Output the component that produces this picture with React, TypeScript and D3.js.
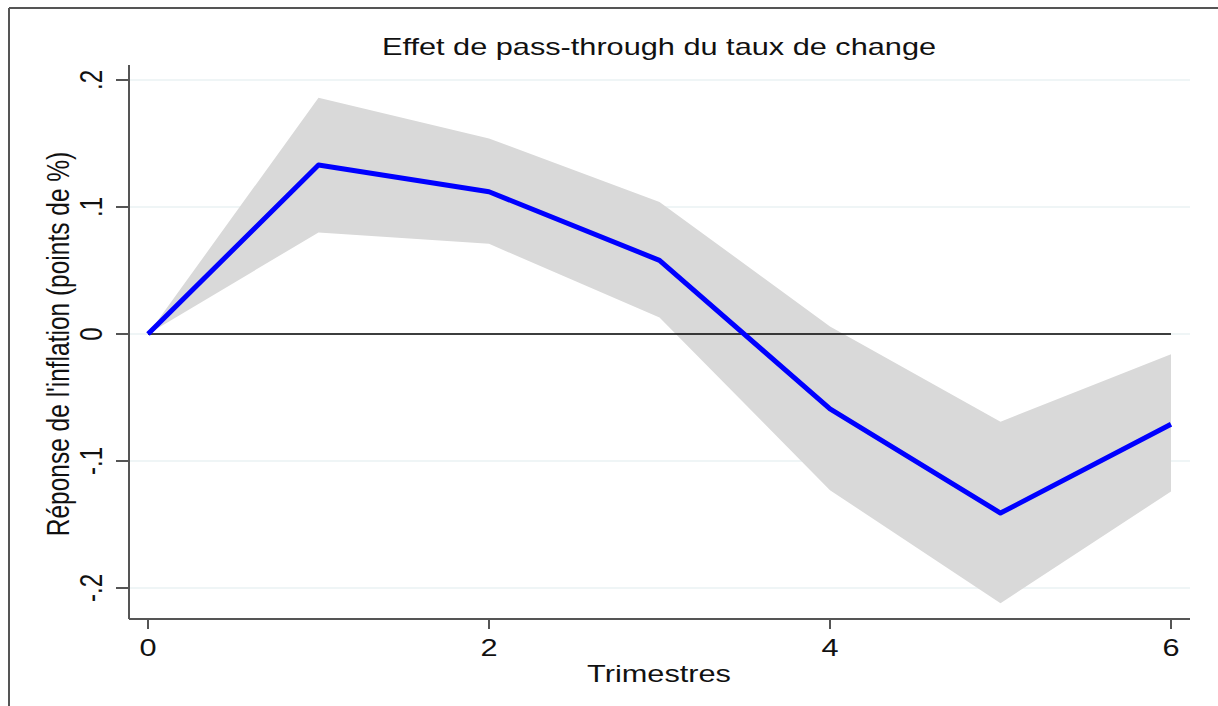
import React from 'react';
import * as d3 from 'd3';

// quarters after the shock
const quarters = [0, 1, 2, 3, 4, 5, 6];
// impulse response of inflation (points of %)
const response = [0, 0.133, 0.112, 0.058, -0.059, -0.141, -0.071];
const upperBand = [0, 0.186, 0.154, 0.104, 0.006, -0.069, -0.016];
const lowerBand = [0, 0.08, 0.071, 0.013, -0.123, -0.212, -0.124];

const yTicks = [-0.2, -0.1, 0, 0.1, 0.2];
const yTickLabels = ['-.2', '-.1', '0', '.1', '.2'];
const xTicks = [0, 2, 4, 6];

const W = 1218;
const H = 706;
const SX = 1.28; // the reference is stretched horizontally
const FONT = 'Arial, "Liberation Sans", sans-serif';
const AXIS = '#555';

const App: React.FC = () => {
	const x = d3.scaleLinear().domain([0, 6]).range([148, 1171]);
	const y = d3.scaleLinear().domain([-0.2, 0.2]).range([588, 80]);
	const xMin = 129;
	const xMax = 1190;
	const yTop = 65;
	const yBot = 619;

	const rows = quarters.map((q, i) => ({
		q,
		v: response[i],
		hi: upperBand[i],
		lo: lowerBand[i],
	}));

	const area = d3
		.area<(typeof rows)[number]>()
		.x((d) => x(d.q))
		.y0((d) => y(d.lo))
		.y1((d) => y(d.hi));
	const line = d3
		.line<(typeof rows)[number]>()
		.x((d) => x(d.q))
		.y((d) => y(d.v));

	return (
		<svg
			width={W}
			height={H}
			style={{ position: 'absolute', left: 0, top: 0, background: '#fff' }}>
			{/* outer frame (top & left only visible) */}
			<line x1={9} x2={W} y1={8} y2={8} stroke={AXIS} strokeWidth={2} />
			<line x1={9} x2={9} y1={8} y2={H} stroke={AXIS} strokeWidth={2} />

			{/* title */}
			<text
				transform={`translate(${659},${55}) scale(${SX},1)`}
				textAnchor="middle"
				fontFamily={FONT}
				fontSize={24}
				fill="#111">
				Effet de pass-through du taux de change
			</text>

			{/* grid */}
			{yTicks.map((t) => (
				<line
					key={'g' + t}
					x1={xMin}
					x2={xMax}
					y1={y(t)}
					y2={y(t)}
					stroke="#eaf2f3"
					strokeWidth={1.5}
				/>
			))}

			{/* confidence band */}
			<path d={area(rows) ?? ''} fill="#d9d9d9" />

			{/* zero line */}
			<line
				x1={x(0)}
				x2={x(6)}
				y1={y(0)}
				y2={y(0)}
				stroke="#000"
				strokeWidth={1.5}
			/>

			{/* response */}
			<path
				d={line(rows) ?? ''}
				fill="none"
				stroke="#0000ff"
				strokeWidth={5}
				strokeLinejoin="round"
			/>

			{/* axes */}
			<line x1={xMin} x2={xMin} y1={yTop} y2={yBot} stroke={AXIS} strokeWidth={2} />
			<line x1={xMin} x2={xMax} y1={yBot} y2={yBot} stroke={AXIS} strokeWidth={2} />

			{yTicks.map((t, i) => (
				<g key={'y' + t}>
					<line x1={116} x2={xMin} y1={y(t)} y2={y(t)} stroke={AXIS} strokeWidth={2} />
					<text
						transform={`translate(${102},${y(t)}) scale(${SX},1) rotate(-90)`}
						textAnchor="middle"
						fontFamily={FONT}
						fontSize={24}
						fill="#111">
						{yTickLabels[i]}
					</text>
				</g>
			))}

			{xTicks.map((t) => (
				<g key={'x' + t}>
					<line x1={x(t)} x2={x(t)} y1={yBot} y2={629} stroke={AXIS} strokeWidth={2} />
					<text
						transform={`translate(${x(t)},${656}) scale(${SX},1)`}
						textAnchor="middle"
						fontFamily={FONT}
						fontSize={24}
						fill="#111">
						{t}
					</text>
				</g>
			))}

			{/* axis titles */}
			<text
				transform={`translate(${659},${682}) scale(${SX},1)`}
				textAnchor="middle"
				fontFamily={FONT}
				fontSize={24}
				fill="#111">
				Trimestres
			</text>
			<text
				transform={`translate(${69},${344}) scale(${SX},1) rotate(-90)`}
				textAnchor="middle"
				fontFamily={FONT}
				fontSize={24.5}
				fill="#111">
				Réponse de l'inflation (points de %)
			</text>
		</svg>
	);
};

export default App;
